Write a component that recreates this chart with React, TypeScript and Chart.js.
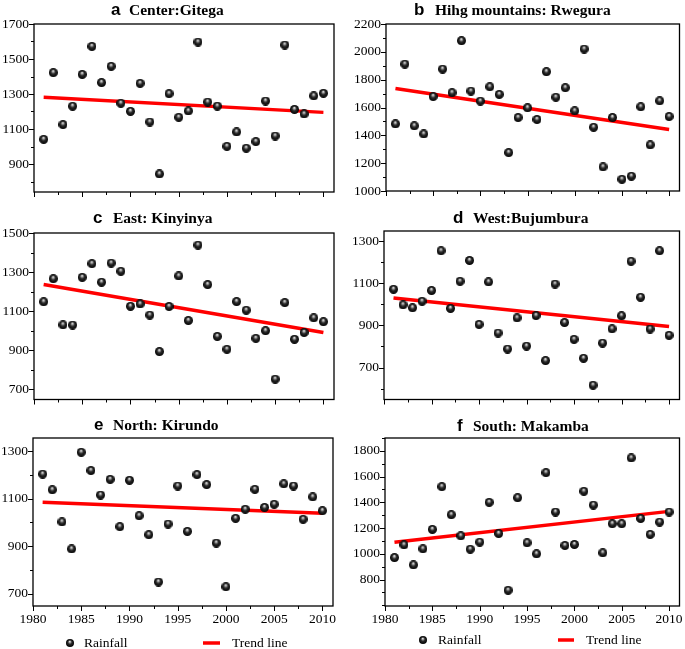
import React, { useEffect, useRef } from "react";
import { Chart, registerables } from "chart.js";
Chart.register(...registerables);

// ---------- data ----------
const YEARS = [1981, 1982, 1983, 1984, 1985, 1986, 1987, 1988, 1989, 1990, 1991, 1992, 1993, 1994, 1995, 1996, 1997, 1998, 1999, 2000, 2001, 2002, 2003, 2004, 2005, 2006, 2007, 2008, 2009, 2010];
const TREND_YEARS = [1981, 2010];
const X_TICK_LABELS = [1980, 1985, 1990, 1995, 2000, 2005, 2010];

const RAIN_A = [1041, 1422, 1125, 1230, 1412, 1572, 1365, 1458, 1247, 1201, 1361, 1140, 843, 1302, 1167, 1203, 1597, 1254, 1231, 1001, 1083, 990, 1028, 1260, 1060, 1580, 1212, 1186, 1289, 1304];
const TREND_A = [1281, 1195];
const Y_TICKS_A = [900, 1100, 1300, 1500, 1700];

const RAIN_B = [1482, 1912, 1468, 1410, 1679, 1876, 1706, 2080, 1718, 1646, 1749, 1694, 1276, 1528, 1598, 1514, 1857, 1674, 1742, 1576, 2020, 1458, 1173, 1528, 1084, 1106, 1605, 1331, 1648, 1535];
const TREND_B = [1737, 1442];
const Y_TICKS_B = [1000, 1200, 1400, 1600, 1800, 2000, 2200];

const RAIN_C = [1148, 1266, 1030, 1029, 1273, 1343, 1248, 1346, 1304, 1125, 1137, 1080, 893, 1124, 1280, 1052, 1438, 1236, 971, 905, 1149, 1105, 961, 1000, 752, 1144, 956, 991, 1066, 1046];
const TREND_C = [1236, 991];
const Y_TICKS_C = [700, 900, 1100, 1300, 1500];

const RAIN_D = [1072, 998, 984, 1015, 1066, 1255, 981, 1110, 1209, 905, 1107, 864, 788, 936, 802, 947, 733, 1097, 914, 834, 744, 616, 816, 884, 946, 1205, 1034, 883, 1255, 853];
const TREND_D = [1031, 895];
const Y_TICKS_D = [700, 900, 1100, 1300];

const RAIN_E = [1203, 1137, 1002, 888, 1295, 1218, 1115, 1181, 982, 1177, 1028, 948, 749, 993, 1153, 962, 1201, 1159, 913, 729, 1017, 1055, 1139, 1063, 1076, 1162, 1153, 1013, 1107, 1049];
const TREND_E = [1085, 1038];
const Y_TICKS_E = [700, 900, 1100, 1300];

const RAIN_F = [971, 1070, 914, 1039, 1190, 1522, 1304, 1140, 1036, 1091, 1400, 1158, 717, 1436, 1086, 1000, 1631, 1325, 1065, 1073, 1486, 1379, 1008, 1234, 1234, 1745, 1275, 1151, 1247, 1325];
const TREND_F = [1091, 1330];
const Y_TICKS_F = [800, 1000, 1200, 1400, 1600, 1800];

const SERIES_NAMES = ["Rainfall", "Trend line"];

// ---------- layout ----------
type Panel = {
  letter: string; name: string; rain: number[]; trend: number[]; yTicks: number[];
  yMin: number; yMax: number;
  box: { x: number; y: number; w: number; h: number };
  area: { l: number; t: number; r: number; b: number };
  letterX: number; nameX: number; titleY: number;
  xLabels: boolean;
  legend?: { y: number; markerX: number; textX: number; lineX1: number; lineX2: number; text2X: number };
};

const PANELS: Panel[] = [
  { letter: "a", name: "Center:Gitega", rain: RAIN_A, trend: TREND_A, yTicks: Y_TICKS_A, yMin: 740, yMax: 1700,
    box: { x: 0, y: 0, w: 340, h: 200 }, area: { l: 34, t: 24, r: 334, b: 192 }, letterX: 111, nameX: 129, titleY: 15, xLabels: false },
  { letter: "b", name: "Hihg mountains: Rwegura", rain: RAIN_B, trend: TREND_B, yTicks: Y_TICKS_B, yMin: 1000, yMax: 2200,
    box: { x: 340, y: 0, w: 345, h: 200 }, area: { l: 386, t: 24, r: 683, b: 191 }, letterX: 414, nameX: 435, titleY: 15, xLabels: false },
  { letter: "c", name: "East: Kinyinya", rain: RAIN_C, trend: TREND_C, yTicks: Y_TICKS_C, yMin: 648, yMax: 1500,
    box: { x: 0, y: 200, w: 340, h: 205 }, area: { l: 34, t: 233, r: 334, b: 400 }, letterX: 93, nameX: 113, titleY: 223, xLabels: false },
  { letter: "d", name: "West:Bujumbura", rain: RAIN_D, trend: TREND_D, yTicks: Y_TICKS_D, yMin: 548, yMax: 1349,
    box: { x: 340, y: 200, w: 345, h: 205 }, area: { l: 384, t: 231, r: 683, b: 400 }, letterX: 453, nameX: 473, titleY: 223, xLabels: false },
  { letter: "e", name: "North: Kirundo", rain: RAIN_E, trend: TREND_E, yTicks: Y_TICKS_E, yMin: 648, yMax: 1355,
    box: { x: 0, y: 405, w: 340, h: 244 }, area: { l: 33, t: 438, r: 333, b: 606 }, letterX: 94, nameX: 113, titleY: 430, xLabels: true,
    legend: { y: 643, markerX: 70, textX: 84, lineX1: 203, lineX2: 220, text2X: 232 } },
  { letter: "f", name: "South: Makamba", rain: RAIN_F, trend: TREND_F, yTicks: Y_TICKS_F, yMin: 595, yMax: 1900,
    box: { x: 340, y: 405, w: 345, h: 244 }, area: { l: 385, t: 438, r: 680, b: 606 }, letterX: 457, nameX: 473, titleY: 431, xLabels: true,
    legend: { y: 640, markerX: 423, textX: 438, lineX1: 558, lineX2: 574, text2X: 586 } },
];

const SERIF = '"Liberation Serif", "Times New Roman", serif';
const X_AXIS_H = 24;

function makeSphere(d: number): HTMLCanvasElement {
  const c = document.createElement("canvas");
  c.width = d; c.height = d;
  const g = c.getContext("2d")!;
  const r = d / 2;
  const grad = g.createRadialGradient(r * 0.95, r * 0.6, 0, r, r, r);
  grad.addColorStop(0, "#ffffff");
  grad.addColorStop(0.22, "#a0a0a0");
  grad.addColorStop(0.5, "#2a2a2a");
  grad.addColorStop(1, "#000000");
  g.fillStyle = grad;
  g.beginPath(); g.arc(r, r, r, 0, Math.PI * 2); g.fill();
  return c;
}

function PanelChart({ p }: { p: Panel }) {
  const ref = useRef<HTMLCanvasElement>(null);
  useEffect(() => {
    const canvas = ref.current!;
    const sphere = makeSphere(9);
    const legendSphere = makeSphere(8);
    const ox = p.box.x, oy = p.box.y;
    const xH = p.xLabels ? X_AXIS_H : 0;

    const decor = {
      id: "decor" + p.letter,
      beforeDatasetsDraw(chart: any) {
        const { ctx, chartArea: ca, scales } = chart;
        const y = scales.y, x = scales.x;
        ctx.save();
        ctx.strokeStyle = "#000";
        ctx.lineWidth = 1.3;
        ctx.strokeRect(ca.left, ca.top, ca.right - ca.left, ca.bottom - ca.top);
        ctx.lineWidth = 1;
        for (let v = Math.ceil(p.yMin / 100) * 100; v <= p.yMax + 0.01; v += 100) {
          const py = Math.round(y.getPixelForValue(v)) + 0.5;
          const len = p.yTicks.includes(v) ? 5 : 3;
          ctx.beginPath(); ctx.moveTo(ca.left - len, py); ctx.lineTo(ca.left, py); ctx.stroke();
        }
        for (let v = 1980; v <= 2010.01; v += 2.5) {
          const px = Math.round(x.getPixelForValue(v)) + 0.5;
          const len = v % 5 === 0 ? 5 : 3;
          ctx.beginPath(); ctx.moveTo(px, ca.bottom); ctx.lineTo(px, ca.bottom + len); ctx.stroke();
        }
        ctx.restore();
      },
      afterDraw(chart: any) {
        const ctx = chart.ctx;
        ctx.save();
        ctx.fillStyle = "#000";
        ctx.textAlign = "left";
        ctx.textBaseline = "alphabetic";
        ctx.font = 'bold 17px "Liberation Sans", Arial, sans-serif';
        ctx.fillText(p.letter, p.letterX - ox, p.titleY - oy);
        ctx.font = `bold 15.5px ${SERIF}`;
        ctx.fillText(p.name, p.nameX - ox, p.titleY - oy);
        if (p.legend) {
          const L = p.legend;
          const ly = L.y - oy;
          ctx.drawImage(legendSphere, L.markerX - ox - 4, ly - 4);
          ctx.font = `13.5px ${SERIF}`;
          ctx.textBaseline = "middle";
          ctx.fillText(chart.data.datasets[0].label, L.textX - ox, ly);
          ctx.strokeStyle = "#ff0000";
          ctx.lineWidth = 3.5;
          ctx.beginPath(); ctx.moveTo(L.lineX1 - ox, ly); ctx.lineTo(L.lineX2 - ox, ly); ctx.stroke();
          ctx.fillText(chart.data.datasets[1].label, L.text2X - ox, ly);
        }
        ctx.restore();
      },
    };

    const chart = new Chart(canvas, {
      type: "scatter",
      data: {
        datasets: [
          {
            type: "scatter",
            label: SERIES_NAMES[0],
            data: YEARS.map((yr, i) => ({ x: yr, y: p.rain[i] })),
            pointStyle: sphere as any,
            pointRadius: 4.5,
            order: 0,
          } as any,
          {
            type: "line",
            label: SERIES_NAMES[1],
            data: TREND_YEARS.map((yr, i) => ({ x: yr, y: p.trend[i] })),
            borderColor: "#ff0000",
            backgroundColor: "#ff0000",
            borderWidth: 3.5,
            pointRadius: 0,
            fill: false,
            order: 1,
          } as any,
        ],
      },
      options: {
        animation: false,
        responsive: false,
        events: [],
        layout: {
          padding: {
            left: 0,
            top: p.area.t - p.box.y,
            right: p.box.x + p.box.w - p.area.r,
            bottom: p.box.y + p.box.h - p.area.b - xH,
          },
        },
        plugins: { legend: { display: false }, tooltip: { enabled: false }, title: { display: false } },
        scales: {
          x: {
            type: "linear",
            min: 1980,
            max: 2011.1,
            grid: { display: false, drawTicks: false },
            border: { display: false },
            ticks: {
              display: p.xLabels,
              color: "#000",
              padding: 5,
              maxRotation: 0,
              font: { family: SERIF, size: 13.5 },
              callback: (v: any) => String(v),
            },
            afterBuildTicks: (s: any) => { s.ticks = X_TICK_LABELS.map((v) => ({ value: v })); },
            afterFit: (s: any) => { s.height = xH; s.paddingLeft = 0; s.paddingRight = 0; },
          },
          y: {
            type: "linear",
            min: p.yMin,
            max: p.yMax,
            grid: { display: false, drawTicks: false },
            border: { display: false },
            ticks: {
              color: "#000",
              padding: 5,
              font: { family: SERIF, size: 13.5 },
              callback: (v: any) => String(v),
            },
            afterBuildTicks: (s: any) => { s.ticks = p.yTicks.map((v) => ({ value: v })); },
            afterFit: (s: any) => { s.width = p.area.l - p.box.x; s.paddingTop = 0; s.paddingBottom = 0; },
          },
        },
      } as any,
      plugins: [decor],
    });
    return () => chart.destroy();
  }, [p]);

  return (
    <canvas
      ref={ref}
      width={p.box.w}
      height={p.box.h}
      style={{ position: "absolute", left: p.box.x, top: p.box.y, width: p.box.w, height: p.box.h }}
    />
  );
}

export default function App() {
  return (
    <div style={{ position: "absolute", left: 0, top: 0, width: 685, height: 649, background: "#fff" }}>
      {PANELS.map((p) => (
        <PanelChart key={p.letter} p={p} />
      ))}
    </div>
  );
}
